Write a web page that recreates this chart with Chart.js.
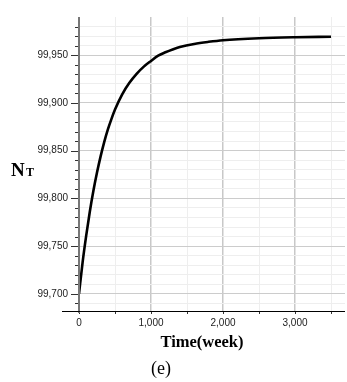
<!DOCTYPE html>
<html>
<head>
<meta charset="utf-8">
<script src="https://cdn.jsdelivr.net/npm/chart.js@4"></script>
<style>
  html, body { margin: 0; padding: 0; background: #fff; }
  #wrap { width: 347px; height: 382px; position: relative; }
</style>
</head>
<body>
<div id="wrap"><canvas id="myChart" width="347" height="382"></canvas></div>
<script>
// values
const weeks = [0, 50, 100, 150, 200, 250, 300, 350, 400, 450, 500, 600, 700, 800, 900,
    1000, 1100, 1200, 1300, 1400, 1600, 1800, 2000, 2500, 3000, 3500];
const nt = [99700, 99733, 99761, 99786, 99808, 99827, 99844, 99859, 99872, 99883, 99893,
    99909, 99921, 99930.5, 99938, 99944, 99949.5, 99953, 99956, 99958.5, 99961.8, 99964,
    99965.7, 99967.8, 99968.8, 99969.3];
const yTicks = [99690, 99700, 99710, 99720, 99730, 99740, 99750, 99760, 99770, 99780, 99790,
    99800, 99810, 99820, 99830, 99840, 99850, 99860, 99870, 99880, 99890, 99900, 99910,
    99920, 99930, 99940, 99950, 99960, 99970, 99980];
const xTicks = [0, 500, 1000, 1500, 2000, 2500, 3000, 3500];

const points = weeks.map((w, i) => ({ x: w, y: nt[i] }));
const fmt = v => v.toLocaleString('en-US');

// axis lines, tick marks and titles
const decor = {
    id: 'decor',
    afterDraw(chart) {
        const ctx = chart.ctx;
        const xs = chart.scales.x, ys = chart.scales.y;
        const a = chart.chartArea;
        ctx.save();
        // y ticks
        ctx.strokeStyle = '#333';
        ctx.lineWidth = 1;
        yTicks.forEach(v => {
            const py = Math.round(ys.getPixelForValue(v)) + 0.5;
            const len = v % 50 === 0 ? 8 : 4;
            ctx.beginPath();
            ctx.moveTo(a.left - len, py);
            ctx.lineTo(a.left, py);
            ctx.stroke();
        });
        // x ticks
        xTicks.forEach(v => {
            const px = Math.round(xs.getPixelForValue(v)) + 0.5;
            ctx.beginPath();
            ctx.moveTo(px, a.bottom);
            ctx.lineTo(px, a.bottom + 3);
            ctx.stroke();
        });
        // y axis line
        ctx.strokeStyle = '#777';
        ctx.lineWidth = 2;
        ctx.beginPath();
        ctx.moveTo(a.left, a.top);
        ctx.lineTo(a.left, a.bottom + 2);
        ctx.stroke();
        // x axis line
        ctx.strokeStyle = '#000';
        ctx.lineWidth = 1;
        ctx.beginPath();
        ctx.moveTo(a.left - 17, a.bottom + 0.5);
        ctx.lineTo(a.right, a.bottom + 0.5);
        ctx.stroke();
        // titles
        ctx.fillStyle = '#000';
        ctx.textBaseline = 'alphabetic';
        ctx.textAlign = 'left';
        ctx.font = 'bold 19px "Liberation Serif"';
        ctx.fillText('N', 11, 176);
        ctx.font = 'bold 12px "Liberation Serif"';
        ctx.fillText('T', 26, 176);
        ctx.textAlign = 'center';
        ctx.font = 'bold 16.5px "Liberation Serif"';
        ctx.fillText('Time(week)', 202, 347);
        ctx.font = '18px "Liberation Serif"';
        ctx.fillText('(e)', 161, 374);
        ctx.restore();
    }
};

new Chart(document.getElementById('myChart'), {
    type: 'line',
    data: {
        datasets: [{
            data: points,
            borderColor: '#000',
            borderWidth: 2.6,
            pointRadius: 0,
            fill: false,
            cubicInterpolationMode: 'monotone'
        }]
    },
    options: {
        responsive: false,
        animation: false,
        layout: { padding: { top: 5, right: 2, left: 0, bottom: 0 } },
        plugins: { legend: { display: false }, tooltip: { enabled: false } },
        scales: {
            x: {
                type: 'linear',
                min: 0,
                max: 3694,
                afterBuildTicks: s => { s.ticks = xTicks.map(v => ({ value: v })); },
                afterFit: s => { s.height = 71; },
                border: { display: false },
                grid: {
                    drawTicks: false,
                    color: c => c.tick && c.tick.value % 1000 === 0 ? '#c8c8c8' : '#eeeeee',
                    lineWidth: c => c.tick && c.tick.value % 1000 === 0 ? 1.5 : 1
                },
                ticks: {
                    padding: 6,
                    color: '#222',
                    font: { family: 'Liberation Sans', size: 10 },
                    autoSkip: false,
                    maxRotation: 0,
                    callback: v => v % 1000 === 0 ? fmt(v) : ''
                }
            },
            y: {
                min: 99682,
                max: 99990,
                afterBuildTicks: s => { s.ticks = yTicks.map(v => ({ value: v })); },
                afterFit: s => { s.width = 79; },
                border: { display: false },
                grid: {
                    drawTicks: false,
                    color: c => c.tick && c.tick.value % 50 === 0 ? '#cccccc' : '#eeeeee',
                    lineWidth: 1
                },
                ticks: {
                    padding: 11,
                    color: '#222',
                    font: { family: 'Liberation Sans', size: 10 },
                    autoSkip: false,
                    callback: v => v % 50 === 0 ? fmt(v) : ''
                }
            }
        }
    },
    plugins: [decor]
});
</script>
</body>
</html>
